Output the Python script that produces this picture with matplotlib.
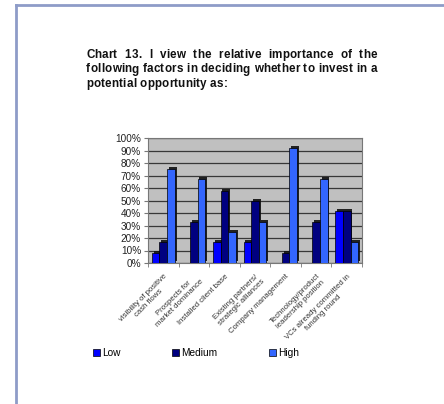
import matplotlib
matplotlib.use("Agg")
import matplotlib.pyplot as plt
import matplotlib.patheffects as pe
from matplotlib.lines import Line2D
from matplotlib.patches import Patch
from matplotlib.font_manager import FontProperties
import numpy as np

plt.rcParams['font.family'] = ['Liberation Sans', 'DejaVu Sans']

categories = ["visibility of positive\ncash flows", "Prospects for\nmarket dominance",
              "Installed client base", "Existing partners/\nstrategic alliances",
              "Company management", "Technology/product\nleadership position",
              "VCs already committed in\nfunding round"]
low = [8, 0, 17, 17, 0, 0, 42]
medium = [17, 33, 58, 50, 8, 33, 42]
high = [75, 67, 25, 33, 92, 67, 17]
series_names = ["Low", "Medium", "High"]
colors = ["#0000FF", "#000080", "#3366FF"]
yticks = list(range(0, 101, 10))
title_lines = [
    "Chart 13. I view the relative importance of the",
    "following factors in deciding whether to invest in a",
    "potential opportunity as:",
]

W, H = 444, 404
fig = plt.figure(figsize=(W / 100, H / 100), dpi=100)
fig.patch.set_facecolor("white")

# page frame
fig.add_artist(Line2D([16/W, 1], [1-5/H, 1-5/H], color="#8E9CC8", lw=2))
fig.add_artist(Line2D([16/W, 16/W], [0, 1-5/H], color="#8E9CC8", lw=2))

# title: letter-spaced, justified text
tfs = 8.4
fp = FontProperties(family="Liberation Sans", weight="bold", size=tfs)
renderer = fig.canvas.get_renderer()
def tw(s):
    return renderer.get_text_width_height_descent(s, fp, ismath=False)[0]
space_w = tw("a a") - tw("aa")
def cw(ch):
    return space_w if ch == " " else tw(ch)

x0, x1 = 86.0, 377.0
ty = 55.0
lh = 14.5
ref_line = title_lines[1]
nat = sum(cw(c) for c in ref_line)
track = (x1 - x0 - nat) / (len(ref_line) - 1)
for li, line in enumerate(title_lines):
    widths = [cw(c) for c in line]
    total = sum(widths) + track * (len(line) - 1)
    nsp = line.count(" ")
    extra = (x1 - x0 - total) / nsp if li < len(title_lines) - 1 and nsp else 0.0
    xp = x0
    y = 1 - (ty + li * lh) / H
    for c, wdt in zip(line, widths):
        if c != " ":
            fig.text(xp / W, y, c, fontproperties=fp, va="center", ha="left", color="#111111")
        xp += wdt + track + (extra if c == " " else 0.0)

ax = fig.add_axes([148/W, 1-263/H, (362-148)/W, (263-138)/H])
ax.set_facecolor("#C0C0C0")
x = np.arange(len(categories))
w = 0.25
shadow = [pe.SimplePatchShadow(offset=(1.3, 1.3), shadow_rgbFace="#101010", alpha=0.9), pe.Normal()]
for i, (vals, c, n) in enumerate(zip([low, medium, high], colors, series_names)):
    bars = ax.bar(x + (i - 1) * w, vals, w, color=c, edgecolor="black", linewidth=0.5, label=n, zorder=3)
    for b in bars:
        b.set_path_effects(shadow)

ax.set_xlim(-0.5, len(categories) - 0.5)
ax.set_ylim(0, 100)
ax.set_yticks(yticks)
ax.set_yticklabels([f"{t}%" for t in yticks], fontsize=7.2, color="#222222")
ax.yaxis.grid(True, color="#383838", lw=0.9, zorder=0)
ax.set_axisbelow(True)
ax.set_xticks(np.arange(len(categories) + 1) - 0.5, minor=True)
ax.set_xticks(x)
ax.set_xticklabels(categories, rotation=45, ha="right", rotation_mode="anchor",
                   fontsize=5.6, color="#333333", multialignment="center")
ax.tick_params(axis="x", which="major", length=0, pad=7)
ax.tick_params(axis="x", which="minor", length=3, color="#777777")
ax.tick_params(axis="y", length=3, color="#777777", pad=2)
for s in ax.spines.values():
    s.set_color("#777777")
    s.set_linewidth(0.8)

handles = [Patch(facecolor=c, edgecolor="black", linewidth=0.5) for c in colors]
fig.legend(handles, series_names, loc="center left", bbox_to_anchor=(93/W, 1-353/H),
           ncol=3, frameon=False, fontsize=7.3, handlelength=0.7, handleheight=0.7,
           handletextpad=0.2, columnspacing=5.1, borderaxespad=0, borderpad=0)

fig.savefig("out.png", dpi=100, facecolor="white")
